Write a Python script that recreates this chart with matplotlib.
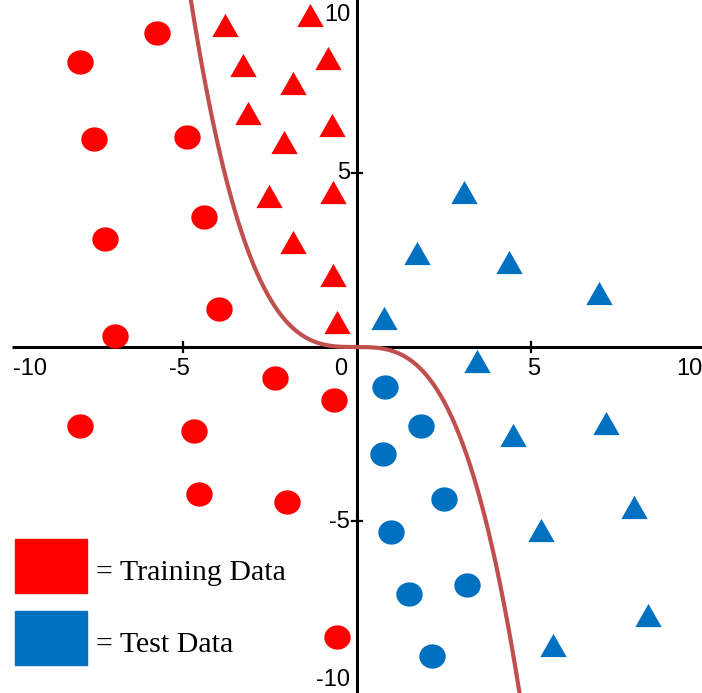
import numpy as np
import matplotlib
matplotlib.use("Agg")
import matplotlib.pyplot as plt
from matplotlib.patches import Rectangle

# training data (red), circles = class A, triangles = class B
train_circle_x = [-5.73, -7.94, -7.54, -4.87, -4.38, -7.22, -3.95, -6.93,
                  -2.35, -0.66, -7.94, -4.67, -4.53, -2.01, -0.57]
train_circle_y = [9.00, 8.17, 5.96, 6.02, 3.72, 3.09, 1.09, 0.32,
                  -0.89, -1.52, -2.26, -2.41, -4.21, -4.44, -8.31]
train_tri_x = [-3.78, -1.35, -3.27, -1.83, -0.83, -3.12, -2.09, -0.72,
               -2.52, -0.69, -1.83, -0.69, -0.57]
train_tri_y = [9.23, 9.51, 8.08, 7.56, 8.28, 6.70, 5.87, 6.36,
               4.33, 4.44, 3.01, 2.06, 0.72]

# test data (blue)
test_circle_x = [0.80, 1.83, 0.74, 2.49, 0.97, 3.15, 1.49, 2.15]
test_circle_y = [-1.15, -2.26, -3.07, -4.36, -5.30, -6.82, -7.08, -8.85]
test_tri_x = [0.77, 3.07, 1.72, 4.36, 6.94, 3.44, 4.47, 7.14, 5.27, 7.94, 8.34, 5.62]
test_tri_y = [0.83, 4.44, 2.69, 2.44, 1.55, -0.40, -2.52, -2.17, -5.24, -4.58, -7.68, -8.54]

# decision boundary y = -k (x - x0)^3
boundary_k = 0.095
boundary_x0 = -0.05

tick_vals = [-10, -5, 0, 5, 10]
legend_labels = ["= Training Data", "= Test Data"]

RED = "#FF0000"
BLUE = "#0070C0"
CURVE = "#C0504D"

W, H = 702, 693
fig = plt.figure(figsize=(W / 100, H / 100), dpi=100)
ax = fig.add_axes([0, 0, 1, 1])

# pixel mapping: origin at (357, 347), 34.88 px per unit
ox, oy, sc = 357, 347, 34.88
ax.set_xlim(-ox / sc, (W - ox) / sc)
ax.set_ylim(-(H - oy) / sc, oy / sc)
ax.axis("off")

# axes lines
ax.plot([-9.9, 10.5], [0, 0], color="black", lw=2.2, zorder=1, solid_capstyle="butt")
ax.plot([0, 0], [-10.5, 10.5], color="black", lw=2.2, zorder=1, solid_capstyle="butt")
for v in (-5, 5):
    ax.plot([v, v], [-0.15, 0.15], color="black", lw=1.6, zorder=1)
    ax.plot([-0.15, 0.15], [v, v], color="black", lw=1.6, zorder=1)

# tick labels
tfont = dict(family="Liberation Sans", fontsize=17, color="black")
xlab_pos = {-10: -9.37, -5: -5.09, 0: -0.46, 5: 5.07, 10: 9.52}
for v in tick_vals:
    ax.text(xlab_pos[v], -0.62, str(v), ha="center", va="center", **tfont)
ylab_pos = {10: 9.53, 5: 5.0, -5: -5.03, -10: -9.55}
for v, yp in ylab_pos.items():
    ax.text(-0.2, yp, str(v), ha="right", va="center", **tfont)

# boundary curve
xs = np.linspace(-5.2, 5.2, 400)
ax.plot(xs, -boundary_k * (xs - boundary_x0) ** 3, color=CURVE, lw=3, zorder=2)

# markers
t = np.linspace(0, 2 * np.pi, 60)
ellipse = list(zip(np.cos(t), 0.92 * np.sin(t)))
tri = [(0, 0.88), (-1, -0.88), (1, -0.88), (0, 0.88)]

ax.plot(train_circle_x, train_circle_y, ls="none", marker=ellipse, ms=19,
        color=RED, mew=0, zorder=3)
ax.plot(train_tri_x, train_tri_y, ls="none", marker=tri, ms=19,
        color=RED, mew=0, zorder=3)
ax.plot(test_circle_x, test_circle_y, ls="none", marker=ellipse, ms=19,
        color=BLUE, mew=0, zorder=3)
ax.plot(test_tri_x, test_tri_y, ls="none", marker=tri, ms=19,
        color=BLUE, mew=0, zorder=3)

# legend boxes drawn by hand
for i, (c, lab) in enumerate(zip([RED, BLUE], legend_labels)):
    top = 539 + i * 72
    fig.patches.append(Rectangle((15 / W, 1 - (top + 54) / H), 72 / W, 54 / H,
                                 transform=fig.transFigure, color=c))
    fig.text(96 / W, 1 - (top + 34) / H, lab, ha="left", va="center",
             family="Liberation Serif", fontsize=21.5)

fig.savefig("out.png", dpi=100)
